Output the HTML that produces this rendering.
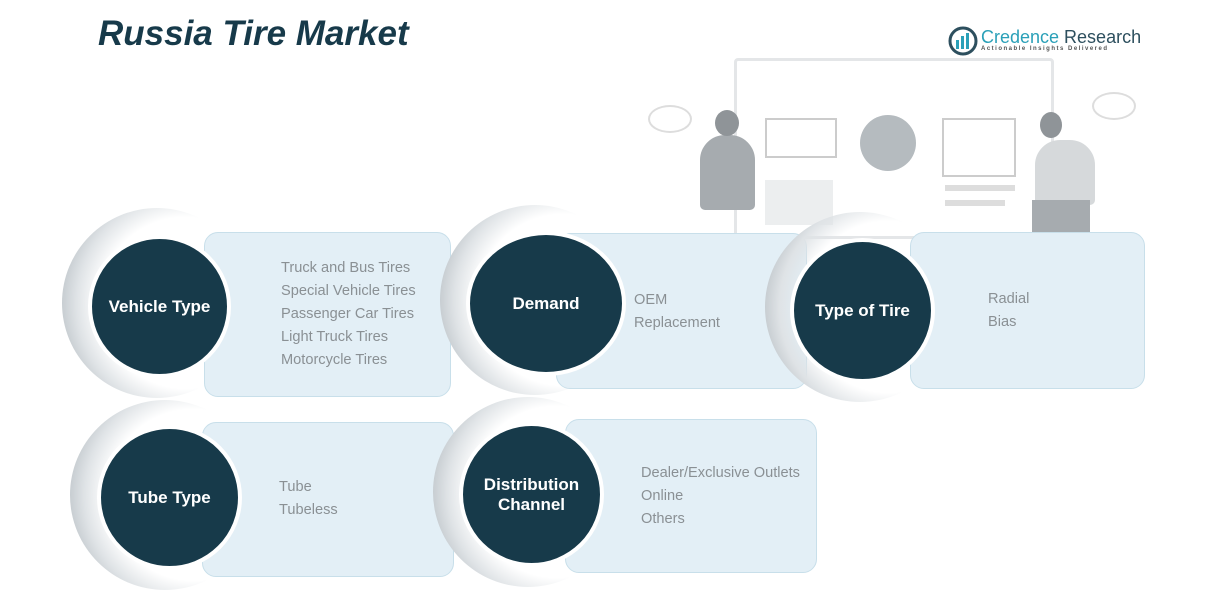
<!DOCTYPE html>
<html><head><style>
body{margin:0;width:1222px;height:602px;background:#fff;position:relative;overflow:hidden;font-family:"Liberation Sans",sans-serif}
.a{position:absolute}
.sh{position:absolute;border-radius:50%;background:radial-gradient(circle at 65% 50%,#fff 0,#fff 55%,#dfe3e6 70%,#b9c0c5 85%,#fff 100%)}
.box{position:absolute;background:#e3eff6;border:1.5px solid #c8dfea;border-radius:14px}
.c{position:absolute;border-radius:50%;background:#173a4a;border:4px solid #fff;color:#fff;font-weight:bold;font-size:17px;display:flex;align-items:center;justify-content:center;text-align:center;line-height:20px;box-sizing:border-box}
.t{position:absolute;color:#8a9094;font-size:14.6px;line-height:23px}
</style></head><body>
<div class="a" style="left:98px;top:14px;font-size:35px;font-weight:bold;font-style:italic;color:#173a4a">Russia Tire Market</div>
<svg class="a" style="left:948px;top:26px" width="30" height="30"><circle cx="15" cy="15" r="13" fill="none" stroke="#2d4f5e" stroke-width="3"/><rect x="8" y="14" width="3" height="9" fill="#2aa0b8"/><rect x="13" y="10" width="3" height="13" fill="#2aa0b8"/><rect x="18" y="7" width="3" height="16" fill="#2aa0b8"/></svg>
<div class="a" style="left:981px;top:27px;font-size:18px;color:#2d4f5e"><span style="color:#2aa0b8">Credence</span> Research</div>
<div class="a" style="left:981px;top:46px;font-size:6px;letter-spacing:1.5px;color:#555;font-weight:bold">Actionable Insights Delivered</div>
<!-- illustration -->
<div class="a" style="left:734px;top:58px;width:314px;height:175px;border:3px solid #e4e6e8;border-radius:4px"></div>
<div class="a" style="left:765px;top:118px;width:68px;height:36px;border:2px solid #ccc"></div>
<div class="a" style="left:860px;top:115px;width:56px;height:56px;border-radius:50%;background:#b5bbbf"></div>
<div class="a" style="left:942px;top:118px;width:70px;height:55px;border:2px solid #ccc"></div>
<div class="a" style="left:765px;top:180px;width:68px;height:45px;background:#eceeef"></div>
<div class="a" style="left:945px;top:185px;width:70px;height:6px;background:#ddd"></div>
<div class="a" style="left:945px;top:200px;width:60px;height:6px;background:#ddd"></div>
<div class="a" style="left:700px;top:135px;width:55px;height:75px;border-radius:25px 25px 5px 5px;background:#a6abaf"></div>
<div class="a" style="left:715px;top:110px;width:24px;height:26px;border-radius:50%;background:#8f9498"></div>
<div class="a" style="left:1035px;top:140px;width:60px;height:65px;border-radius:25px 25px 5px 5px;background:#d6d9db"></div>
<div class="a" style="left:1040px;top:112px;width:22px;height:26px;border-radius:50%;background:#8f9498"></div>
<div class="a" style="left:1032px;top:200px;width:58px;height:32px;background:#a6abaf"></div>
<div class="a" style="left:648px;top:105px;width:40px;height:24px;border:2px solid #ddd;border-radius:50%"></div>
<div class="a" style="left:1092px;top:92px;width:40px;height:24px;border:2px solid #ddd;border-radius:50%"></div>
<!-- row 1 -->
<div class="sh" style="left:62px;top:208px;width:190px;height:190px"></div>
<div class="box" style="left:204px;top:232px;width:245px;height:163px"></div>
<div class="c" style="left:88px;top:235px;width:143px;height:143px">Vehicle Type</div>
<div class="t" style="left:281px;top:257px">Truck and Bus Tires<br>Special Vehicle Tires<br>Passenger Car Tires<br>Light Truck Tires<br>Motorcycle Tires</div>
<div class="box" style="left:556px;top:233px;width:249px;height:154px"></div>
<div class="sh" style="left:440px;top:205px;width:190px;height:190px;background:radial-gradient(circle at 65% 50%,rgba(255,255,255,0) 0,rgba(255,255,255,0) 55%,#dfe3e6 70%,#b9c0c5 85%,rgba(255,255,255,0) 100%)"></div>
<div class="c" style="left:466px;top:231px;width:160px;height:145px">Demand</div>
<div class="t" style="left:634px;top:289px">OEM<br>Replacement</div>
<div class="box" style="left:910px;top:232px;width:233px;height:155px"></div>
<div class="sh" style="left:765px;top:212px;width:190px;height:190px;background:radial-gradient(circle at 65% 50%,rgba(255,255,255,0) 0,rgba(255,255,255,0) 55%,#dfe3e6 70%,#b9c0c5 85%,rgba(255,255,255,0) 100%)"></div>
<div class="c" style="left:790px;top:238px;width:145px;height:145px">Type of Tire</div>
<div class="t" style="left:988px;top:288px">Radial<br>Bias</div>
<!-- row 2 -->
<div class="sh" style="left:70px;top:400px;width:190px;height:190px"></div>
<div class="box" style="left:202px;top:422px;width:250px;height:153px"></div>
<div class="c" style="left:97px;top:425px;width:145px;height:145px">Tube Type</div>
<div class="t" style="left:279px;top:476px">Tube<br>Tubeless</div>
<div class="sh" style="left:433px;top:397px;width:190px;height:190px"></div>
<div class="box" style="left:565px;top:419px;width:250px;height:152px"></div>
<div class="c" style="left:459px;top:422px;width:145px;height:145px">Distribution<br>Channel</div>
<div class="t" style="left:641px;top:462px">Dealer/Exclusive Outlets<br>Online<br>Others</div>
</body></html>
